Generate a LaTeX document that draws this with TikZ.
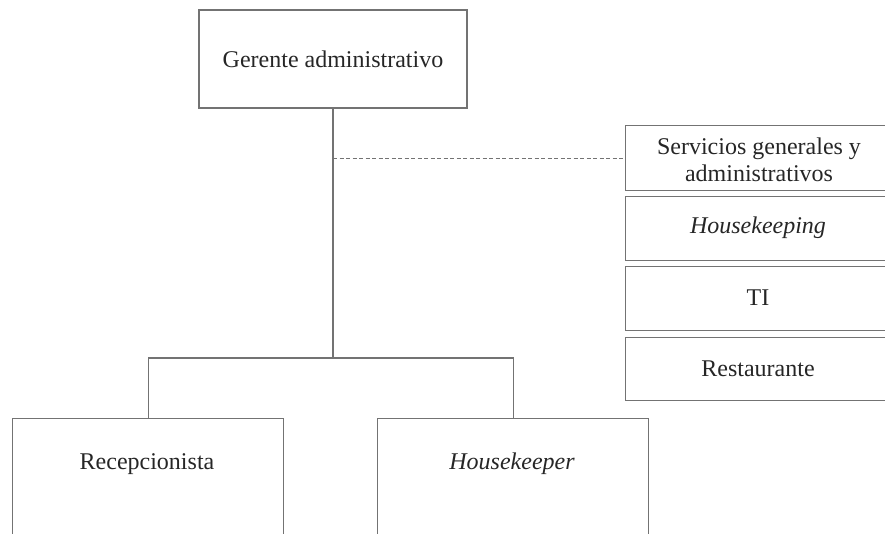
\documentclass[tikz,border=0pt]{standalone}
\usepackage{fontspec}
\setmainfont{Liberation Serif}
\begin{document}
\begin{tikzpicture}[x=1pt,y=-1pt,
  box/.style={draw=black!55, line width=1.2pt, rectangle, inner sep=0pt, align=center,
    font=\fontsize{24}{29}\selectfont, text=black!85},
  conn/.style={draw=black!55, line width=1.2pt},
  dash line/.style={draw=black!55, line width=1pt, dash pattern=on 4pt off 2.5pt}]
\useasboundingbox (0,0) rectangle (885,533);
\clip (0,0) rectangle (885,533);
% top
\node[box, minimum width=268pt, minimum height=98pt] (ger) at (333,59) {Gerente administrativo};
% right column
\node[box, minimum width=266pt, minimum height=65pt, anchor=north west] (serv) at (625,125) {};
\node (servt) at (759,160) [font=\fontsize{24}{27}\selectfont, text=black!85, align=center] {Servicios generales y\\administrativos};
\node[box, minimum width=266pt, minimum height=64pt, anchor=north west] (hk) at (625,196) {};
\node (hkt) at (758,228) [font=\fontsize{24}{29}\selectfont\itshape, text=black!85] {Housekeeping};
\node[box, minimum width=266pt, minimum height=64pt, anchor=north west] (ti) at (625,266) {};
\node (tit) at (758,298) [font=\fontsize{24}{29}\selectfont, text=black!85] {TI};
\node[box, minimum width=266pt, minimum height=63pt, anchor=north west] (rest) at (625,337) {};
\node (restt) at (758,369) [font=\fontsize{24}{29}\selectfont, text=black!85] {Restaurante};
% bottom boxes
\node[box, minimum width=271pt, minimum height=130pt, anchor=north west] (rec) at (12,418) {};
\node (rect) at (147,464) [font=\fontsize{24}{29}\selectfont, text=black!85] {Recepcionista};
\node[box, minimum width=271pt, minimum height=130pt, anchor=north west] (hkp) at (377,418) {};
\node (hkpt) at (512,464) [font=\fontsize{24}{29}\selectfont\itshape, text=black!85] {Housekeeper};
% connectors
\coordinate (j) at (333,358);
\coordinate (d) at (333,158);
\draw[conn] (ger.south) -- (j);
\draw[conn] (j) -| (rec.north);
\draw[conn] (j) -| (hkp.north);
\draw[dash line] (d) -- (serv.west |- d);
\end{tikzpicture}
\end{document}
